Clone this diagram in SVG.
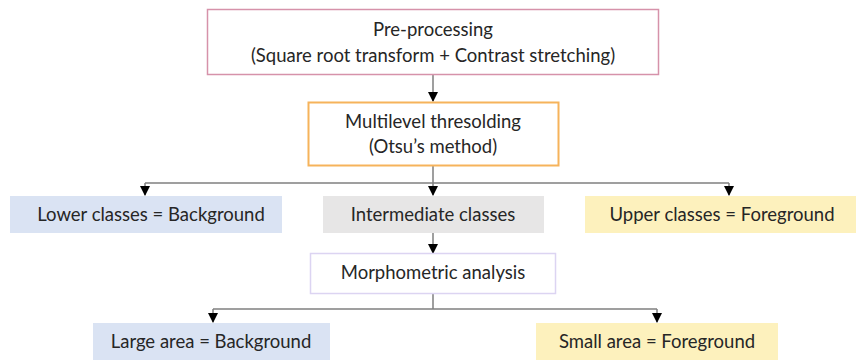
<svg xmlns="http://www.w3.org/2000/svg" width="857" height="361" viewBox="0 0 857 361">
<defs>
<marker id="ah" markerWidth="10" markerHeight="10" refX="9" refY="5" orient="auto" markerUnits="userSpaceOnUse" viewBox="0 0 10 10">
<path d="M0,0 L10,5 L0,10 Z" fill="#000"/>
</marker>
</defs>
<style>
text{font-family:Lato,"Liberation Sans",sans-serif;font-size:18.5px;fill:#262626;text-anchor:middle}
.c{fill:none;stroke:#7f7f7f;stroke-width:1.5}
.a{fill:none;stroke:#7f7f7f;stroke-width:1.5;marker-end:url(#ah)}
</style>
<rect width="857" height="361" fill="#fff"/>
<g id="connectors">
<line class="a" x1="433" y1="74" x2="433" y2="101"/>
<line class="c" x1="433" y1="166" x2="433" y2="183"/>
<line class="c" x1="145" y1="183" x2="729" y2="183"/>
<line class="a" x1="145" y1="183" x2="145" y2="195"/>
<line class="a" x1="433" y1="183" x2="433" y2="195"/>
<line class="a" x1="729" y1="183" x2="729" y2="195"/>
<line class="a" x1="433" y1="233" x2="433" y2="253"/>
<line class="c" x1="433" y1="293" x2="433" y2="309"/>
<line class="c" x1="213" y1="309" x2="657" y2="309"/>
<line class="a" x1="213" y1="309" x2="213" y2="322"/>
<line class="a" x1="657" y1="309" x2="657" y2="322"/>
</g>
<g id="preprocessing">
<rect x="207.5" y="9.5" width="451" height="65" fill="#fff" stroke="#d692aa" stroke-width="1.5"/>
<text x="433" y="36">Pre-processing</text>
<text x="433" y="62">(Square root transform + Contrast stretching)</text>
</g>
<g id="multilevel">
<rect x="308.5" y="102.5" width="250" height="63" fill="#fff" stroke="#f6b35b" stroke-width="2"/>
<text x="433" y="128">Multilevel thresolding</text>
<text x="433" y="153">(Otsu’s method)</text>
</g>
<g id="lower">
<rect x="10" y="196" width="272" height="37" fill="#dae3f3"/>
<text x="151" y="221">Lower classes = Background</text>
</g>
<g id="intermediate">
<rect x="323" y="196" width="221" height="37" fill="#e7e6e6"/>
<text x="433" y="221">Intermediate classes</text>
</g>
<g id="upper">
<rect x="585" y="196" width="271" height="37" fill="#fdf1bd"/>
<text x="722" y="221">Upper classes = Foreground</text>
</g>
<g id="morphometric">
<rect x="310.5" y="253.5" width="245" height="40" fill="#fff" stroke="#dcd4f2" stroke-width="1.5"/>
<text x="433" y="279">Morphometric analysis</text>
</g>
<g id="large">
<rect x="93" y="323" width="237" height="37" fill="#dae3f3"/>
<text x="211" y="348">Large area = Background</text>
</g>
<g id="small">
<rect x="536" y="323" width="242" height="37" fill="#fdf1bd"/>
<text x="657" y="348">Small area = Foreground</text>
</g>
</svg>
